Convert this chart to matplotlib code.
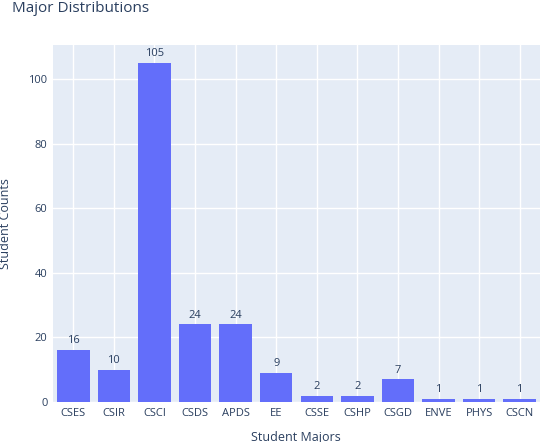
import matplotlib.pyplot as plt

majors = ["CSES", "CSIR", "CSCI", "CSDS", "APDS", "EE", "CSSE", "CSHP", "CSGD", "ENVE", "PHYS", "CSCN"]
counts = [16, 10, 105, 24, 24, 9, 2, 2, 7, 1, 1, 1]

plt.rcParams["font.family"] = ["Open Sans", "DejaVu Sans"]
text_color = "#2a3f5f"

fig = plt.figure(figsize=(5.4, 4.42), dpi=100)
ax = fig.add_axes([53 / 540, 40 / 442, 487 / 540, 357 / 442])
ax.set_facecolor("#e5ecf6")
bars = ax.bar(range(len(majors)), counts, width=0.8, color="#636efa", zorder=3)
for b, v in zip(bars, counts):
    ax.text(b.get_x() + b.get_width() / 2, v + 1.2, str(v), ha="center", va="bottom",
            fontsize=8, color=text_color)

ax.set_xlim(-0.5, len(majors) - 0.5)
ax.set_ylim(0, 110.5)
ax.set_yticks([0, 20, 40, 60, 80, 100])
ax.set_xticks(range(len(majors)))
ax.set_xticklabels(majors)
ax.grid(axis="y", color="white", linewidth=1, zorder=0)
ax.grid(axis="x", color="white", linewidth=1, zorder=0)
for s in ax.spines.values():
    s.set_visible(False)
ax.tick_params(length=0, labelsize=8, colors=text_color, pad=4)
ax.set_ylabel("Student Counts", fontsize=9, color=text_color, labelpad=12)
fig.text(296 / 540, 1 - 437 / 442, "Student Majors", fontsize=9, color=text_color,
         ha="center", va="center")
fig.text(12 / 540, 1 - 8 / 442, "Major Distributions", fontsize=11, color=text_color, va="center")

fig.savefig("out.png", dpi=100)
